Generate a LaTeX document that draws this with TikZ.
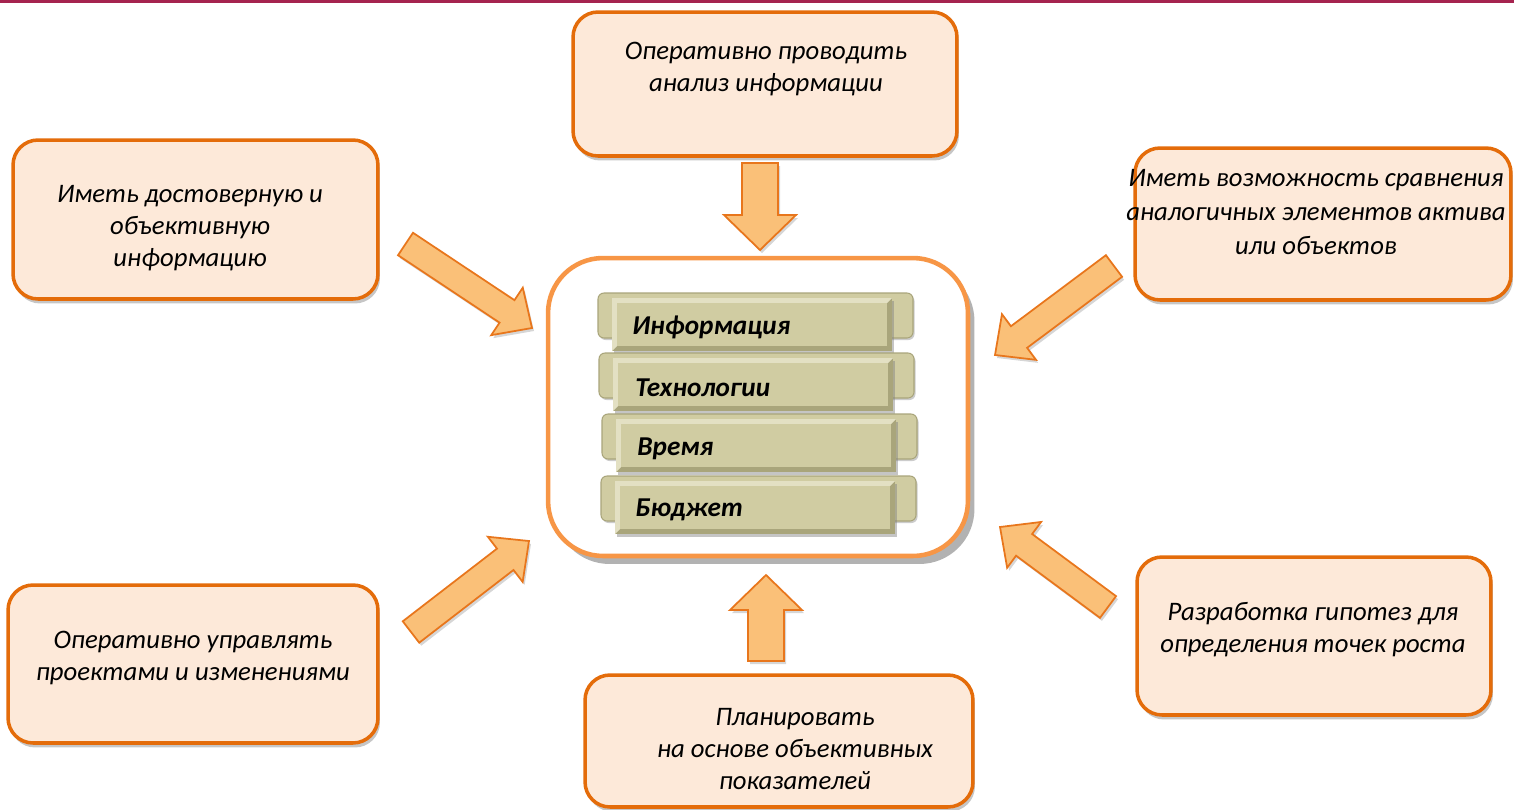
\documentclass[tikz,border=0pt]{standalone}
\usepackage{fontspec}
\setmainfont{Carlito}
\usetikzlibrary{calc,shadows}
\definecolor{boxfill}{HTML}{FDE9D9}
\definecolor{boxline}{HTML}{E46C0A}
\definecolor{centerline}{HTML}{F79646}
\definecolor{arrfill}{HTML}{FAC078}
\definecolor{arrline}{HTML}{E8761C}
\definecolor{barfill}{HTML}{D0CCA2}
\definecolor{barlight}{HTML}{E3E0C3}
\definecolor{bardark}{HTML}{A9A57B}
\definecolor{topline}{HTML}{A5234F}
\tikzset{
  infobox/.style={draw=boxline, fill=boxfill, line width=2pt, rounded corners=0.5cm,
    drop shadow={shadow xshift=0.04cm, shadow yshift=-0.09cm, fill=black!50, opacity=0.45}},
  centerbox/.style={draw=centerline, fill=white, line width=2.6pt, rounded corners=1.1cm,
    drop shadow={shadow xshift=0.13cm, shadow yshift=-0.16cm, fill=black!55, opacity=0.55}},
  boxtext/.style={align=center, font=\fontsize{15.2}{18.3}\selectfont\itshape, inner sep=0pt},
  bartext/.style={anchor=west, font=\fontsize{15.5}{18}\selectfont\bfseries\itshape, inner sep=0pt},
  blockarr/.style={draw=arrline, fill=arrfill, line width=1pt, line join=miter,
    drop shadow={shadow xshift=0.04cm, shadow yshift=-0.06cm, fill=black!40, opacity=0.4}},
  backtab/.style={draw=bardark, fill=barfill, line width=0.6pt, rounded corners=0.12cm,
    drop shadow={shadow xshift=0.03cm, shadow yshift=-0.04cm, fill=black!50, opacity=0.4}},
}
% block arrow: tail, tip, half shaft width, half head width, head length
\newcommand\blockarrow[5]{%
  \coordinate (hb) at ($(#2)!#5!(#1)$);
  \draw[blockarr] ($(#1)!#3!90:(#2)$) -- ($(hb)!#3!-90:(#1)$) -- ($(hb)!#4!-90:(#1)$)
    -- (#2) -- ($(hb)!#4!90:(#1)$) -- ($(hb)!#3!90:(#1)$) -- ($(#1)!#3!-90:(#2)$) -- cycle;
}
% khaki bar: front top-left corner
\newcommand\khakibar[2]{%
  \draw[backtab] (#1-14,#2-5) rectangle (#1+301,#2+40);
  \fill[bardark, drop shadow={shadow xshift=0.03cm, shadow yshift=-0.05cm, fill=black!50, opacity=0.45}]
    (#1,#2) rectangle (#1+280,#2+53);
  \fill[barlight] (#1,#2) -- (#1+280,#2) -- (#1+275,#2+5) -- (#1+5,#2+5) -- (#1+5,#2+48) -- (#1,#2+53) -- cycle;
  \fill[barfill] (#1+5,#2+5) rectangle (#1+275,#2+48);
}
\begin{document}
\begin{tikzpicture}[x=0.02cm,y=-0.02cm]
\useasboundingbox (0,0) rectangle (1514,809);
\fill[topline] (0,0) rectangle (1514,3);

% central box
\node[centerbox, minimum width=8.4cm, minimum height=5.96cm] (core) at (758,407) {};
\khakibar{612}{298}
\khakibar{613}{358}
\khakibar{616}{419}
\khakibar{615}{481}
\node[bartext] (b1) at (632,327) {Информация};
\node[bartext] (b2) at (635,388) {Технологии};
\node[bartext] (b3) at (637,449) {Время};
\node[bartext] (b4) at (635,510) {Бюджет};

% outer boxes
\node[infobox, minimum width=7.68cm, minimum height=2.88cm] (top) at (765,84) {};
\node[boxtext] (ttop) at (766,69) {Оперативно проводить\\анализ информации};

\node[infobox, minimum width=7.30cm, minimum height=3.18cm] (ul) at (195.5,219.5) {};
\node[boxtext] (tul) at (190,228) {Иметь достоверную и\\объективную\\информацию};

\node[infobox, minimum width=7.52cm, minimum height=3.04cm] (ur) at (1323,224) {};
\node[boxtext, font=\fontsize{15.2}{19.2}\selectfont\itshape] (tur) at (1316,212) {Иметь возможность сравнения\\аналогичных элементов актива\\или объектов};

\node[infobox, minimum width=7.40cm, minimum height=3.16cm] (ll) at (193,664) {};
\node[boxtext] (tll) at (193,658) {Оперативно управлять\\проектами и изменениями};

\node[infobox, minimum width=7.08cm, minimum height=3.16cm] (lr) at (1314,636) {};
\node[boxtext] (tlr) at (1313,630) {Разработка гипотез для\\определения точек роста};

\node[infobox, minimum width=7.76cm, minimum height=2.64cm] (bot) at (779,741) {};
\node[boxtext] (tbot) at (795,749) {Планировать\\на основе объективных\\показателей};

% arrow end points
\coordinate (aTopS) at (760,163);  \coordinate (aTopE) at (760,250);
\coordinate (aBotS) at (766,661);  \coordinate (aBotE) at (766,575);
\coordinate (aULS) at (405.5,244); \coordinate (aULE) at (532,328);
\coordinate (aURS) at (1114,266);  \coordinate (aURE) at (995,355);
\coordinate (aLLS) at (411,632);   \coordinate (aLLE) at (529,541);
\coordinate (aLRS) at (1108,607);  \coordinate (aLRE) at (1000,527);

\blockarrow{aTopS}{aTopE}{0.36cm}{0.72cm}{0.7cm}
\blockarrow{aBotS}{aBotE}{0.36cm}{0.72cm}{0.7cm}
\blockarrow{aULS}{aULE}{0.27cm}{0.57cm}{0.6cm}
\blockarrow{aURS}{aURE}{0.27cm}{0.57cm}{0.6cm}
\blockarrow{aLLS}{aLLE}{0.27cm}{0.57cm}{0.6cm}
\blockarrow{aLRS}{aLRE}{0.27cm}{0.57cm}{0.6cm}
\end{tikzpicture}
\end{document}
